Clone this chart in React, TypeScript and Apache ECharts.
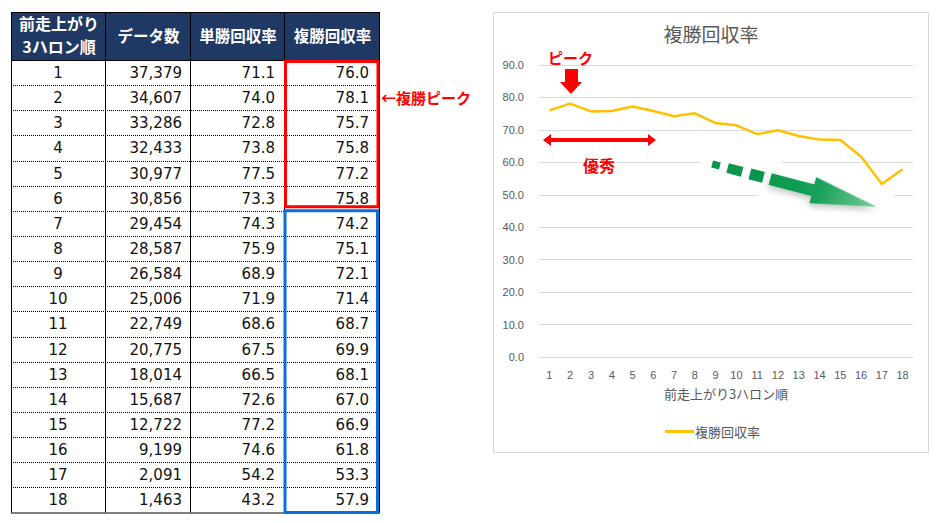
import React, { useEffect, useRef } from "react";
import * as echarts from "echarts";

// ---- data ----
const ranks = ["1", "2", "3", "4", "5", "6", "7", "8", "9", "10", "11", "12", "13", "14", "15", "16", "17", "18"];
const dataCounts = [37379, 34607, 33286, 32433, 30977, 30856, 29454, 28587, 26584, 25006, 22749, 20775, 18014, 15687, 12722, 9199, 2091, 1463];
const winReturns = [71.1, 74.0, 72.8, 73.8, 77.5, 73.3, 74.3, 75.9, 68.9, 71.9, 68.6, 67.5, 66.5, 72.6, 77.2, 74.6, 54.2, 43.2];
const placeReturns = [76.0, 78.1, 75.7, 75.8, 77.2, 75.8, 74.2, 75.1, 72.1, 71.4, 68.7, 69.9, 68.1, 67.0, 66.9, 61.8, 53.3, 57.9];
const tableHeaders = ["前走上がり\n3ハロン順", "データ数", "単勝回収率", "複勝回収率"];
const chartTitle = "複勝回収率";
const xAxisName = "前走上がり3ハロン順";
const seriesName = "複勝回収率";
const peakLabel = "ピーク";
const goodLabel = "優秀";
const peakNote = "←複勝ピーク";
const peakGroupEnd = 6; // ranks 1-6 in red box

const RED = "#ff0000";
const BLUE = "#0a6ee0";
const CJK = "'Noto Sans CJK JP', sans-serif";
const NUM = "'DejaVu Sans', sans-serif";

function buildTable(): any[] {
  const els: any[] = [];
  const colX = [11, 105, 190, 284, 379];
  const top = 12;
  const headBottom = 60;
  const bottom = 512.5;
  const rowH = (bottom - headBottom) / ranks.length;
  els.push({ type: "rect", z: 5, shape: { x: colX[0], y: top, width: colX[4] - colX[0], height: headBottom - top }, style: { fill: "#203864" } });
  // header texts
  tableHeaders.forEach((h, c) => {
    const lines = h.split("\n");
    const cx = (colX[c] + colX[c + 1]) / 2 + 1;
    lines.forEach((ln, k) => {
      const cy = lines.length === 1 ? 35 : 23 + k * 23;
      els.push({
        type: "text", z: 6,
        style: { x: cx, y: cy, text: ln, fill: "#ffffff", fontSize: lines.length === 1 ? 15.5 : 16, fontWeight: "bold", fontFamily: CJK, align: "center", verticalAlign: "middle", textAlign: "center", textVerticalAlign: "middle" },
      });
    });
  });
  // body rows
  ranks.forEach((r, i) => {
    const cy = headBottom + (i + 0.5) * rowH + 0.5;
    const cells = [r, dataCounts[i].toLocaleString("en-US"), winReturns[i].toFixed(1), placeReturns[i].toFixed(1)];
    const xs = [58, 182, 275, 369];
    cells.forEach((t, c) => {
      const al = c === 0 ? "center" : "right";
      els.push({
        type: "text", z: 6,
        style: { x: xs[c], y: cy, text: t, fill: "#111111", fontSize: 15, fontFamily: NUM, align: al, verticalAlign: "middle", textAlign: al, textVerticalAlign: "middle" },
      });
    });
    if (i > 0) {
      const y = Math.round(headBottom + i * rowH) + 0.5;
      els.push({ type: "line", z: 5, shape: { x1: colX[0], y1: y, x2: colX[4], y2: y }, style: { stroke: "#000000", lineWidth: 1, lineDash: [1, 1] } });
    }
  });
  // column lines
  colX.forEach((x) => {
    els.push({ type: "line", z: 5, shape: { x1: x + 0.5, y1: top, x2: x + 0.5, y2: bottom }, style: { stroke: "#000000", lineWidth: 1 } });
  });
  [top, headBottom, bottom].forEach((y) => {
    els.push({ type: "line", z: 5, shape: { x1: colX[0], y1: y + 0.5, x2: colX[4] + 1, y2: y + 0.5 }, style: { stroke: "#000000", lineWidth: 1 } });
  });
  // highlight boxes
  const split = headBottom + peakGroupEnd * rowH;
  els.push({ type: "rect", z: 7, shape: { x: 285.5, y: 61.5, width: 92.5, height: split - 4 - 61.5 }, style: { fill: "none", stroke: RED, lineWidth: 3 } });
  els.push({ type: "rect", z: 7, shape: { x: 285, y: split, width: 92.5, height: bottom - split }, style: { fill: "none", stroke: BLUE, lineWidth: 3 } });
  els.push({
    type: "text", z: 7,
    style: { x: 381, y: 97, text: peakNote, fill: RED, fontSize: 15, fontWeight: "bold", fontFamily: CJK, align: "left", verticalAlign: "middle", textAlign: "left", textVerticalAlign: "middle" },
  });
  return els;
}

function buildAnnotations(): any[] {
  const els: any[] = [];
  // chart frame
  els.push({ type: "rect", z: 0, silent: true, shape: { x: 493.5, y: 12.5, width: 435, height: 440 }, style: { fill: "none", stroke: "#d9d9d9", lineWidth: 1 } });
  els.push({
    type: "text", z: 10,
    style: { x: 548, y: 57, text: peakLabel, fill: RED, fontSize: 15, fontWeight: "bold", fontFamily: CJK, align: "left", verticalAlign: "middle", textAlign: "left", textVerticalAlign: "middle" },
  });
  els.push({
    type: "polygon", z: 10,
    shape: { points: [[565, 69], [578, 69], [578, 82], [582, 82], [571, 94], [560, 82], [565, 82]] },
    style: { fill: RED },
  });
  els.push({
    type: "polygon", z: 10,
    shape: { points: [[543, 140], [551, 134], [551, 138], [648, 138], [648, 134], [656, 140], [648, 146], [648, 142], [551, 142], [551, 146]] },
    style: { fill: RED },
  });
  els.push({
    type: "text", z: 10,
    style: { x: 599, y: 165, text: goodLabel, fill: RED, fontSize: 16, fontWeight: "bold", fontFamily: CJK, align: "center", verticalAlign: "middle", textAlign: "center", textVerticalAlign: "middle" },
  });
  // green trend arrow
  els.push({
    type: "group", x: 716, y: 165, rotation: -0.255,
    children: [
      { type: "rect", z: 1, shape: { x: -16, y: -19, width: 200, height: 38, r: 14 }, style: { fill: "#ffffff" } },
      { type: "rect", z: 3, shape: { x: -4, y: -3.5, width: 8, height: 7 }, style: { fill: "#0a944c" } },
      { type: "rect", z: 3, shape: { x: 12, y: -5, width: 15, height: 10 }, style: { fill: "#0a944c" } },
      { type: "rect", z: 3, shape: { x: 35, y: -5.5, width: 14, height: 11 }, style: { fill: "#0a944c" } },
      {
        type: "polygon", z: 3,
        shape: { points: [[56, -6], [100, -6], [100, -13.5], [166, 0], [100, 13.5], [100, 6], [56, 6]] },
        style: {
          fill: new echarts.graphic.LinearGradient(0, 0, 1, 0, [
            { offset: 0, color: "#069a4c" },
            { offset: 0.45, color: "#16a05a" },
            { offset: 1, color: "#7ccb98" },
          ]),
          shadowBlur: 6, shadowColor: "rgba(0,0,0,0.25)", shadowOffsetY: 3,
        },
      },
    ],
  });
  return els;
}

export default function App() {
  const ref = useRef<HTMLDivElement>(null);
  useEffect(() => {
    if (!ref.current) return;
    const chart = echarts.init(ref.current, undefined, { renderer: "svg" });
    chart.setOption({
      animation: false,
      backgroundColor: "#ffffff",
      title: {
        text: chartTitle, left: 711, top: 24, textAlign: "center", padding: 0,
        textStyle: { fontSize: 19, fontWeight: "normal", color: "#595959", fontFamily: CJK },
      },
      legend: {
        data: [seriesName], left: 665, top: 425, padding: 0, icon: "rect", itemWidth: 29, itemHeight: 3,
        textStyle: { fontSize: 13, color: "#595959", fontFamily: CJK, padding: [0, 0, 0, -4] },
      },
      grid: { left: 539, right: 25, top: 65, bottom: 166 },
      xAxis: {
        type: "category", data: ranks, boundaryGap: true,
        axisTick: { show: false },
        axisLine: { lineStyle: { color: "#d9d9d9" } },
        axisLabel: { color: "#595959", fontSize: 11, margin: 12, fontFamily: "'Liberation Sans', sans-serif", interval: 0 },
        name: xAxisName, nameLocation: "middle", nameGap: 30,
        nameTextStyle: { fontSize: 13, color: "#595959", fontFamily: CJK },
      },
      yAxis: {
        type: "value", min: 0, max: 90, interval: 10,
        axisLine: { show: false }, axisTick: { show: false },
        splitLine: { lineStyle: { color: "#d9d9d9" } },
        axisLabel: { color: "#595959", fontSize: 11, margin: 15, fontFamily: "'Liberation Sans', sans-serif", formatter: (v: number) => v.toFixed(1) },
      },
      series: [
        {
          name: seriesName, type: "line", data: placeReturns, symbol: "none", z: 2,
          lineStyle: { color: "#FFC000", width: 2.5 }, itemStyle: { color: "#FFC000" },
        },
      ],
      graphic: { elements: [...buildTable(), ...buildAnnotations()] },
    });
    return () => chart.dispose();
  }, []);
  return <div ref={ref} style={{ position: "fixed", left: 0, top: 0, width: 938, height: 523 }} />;
}
